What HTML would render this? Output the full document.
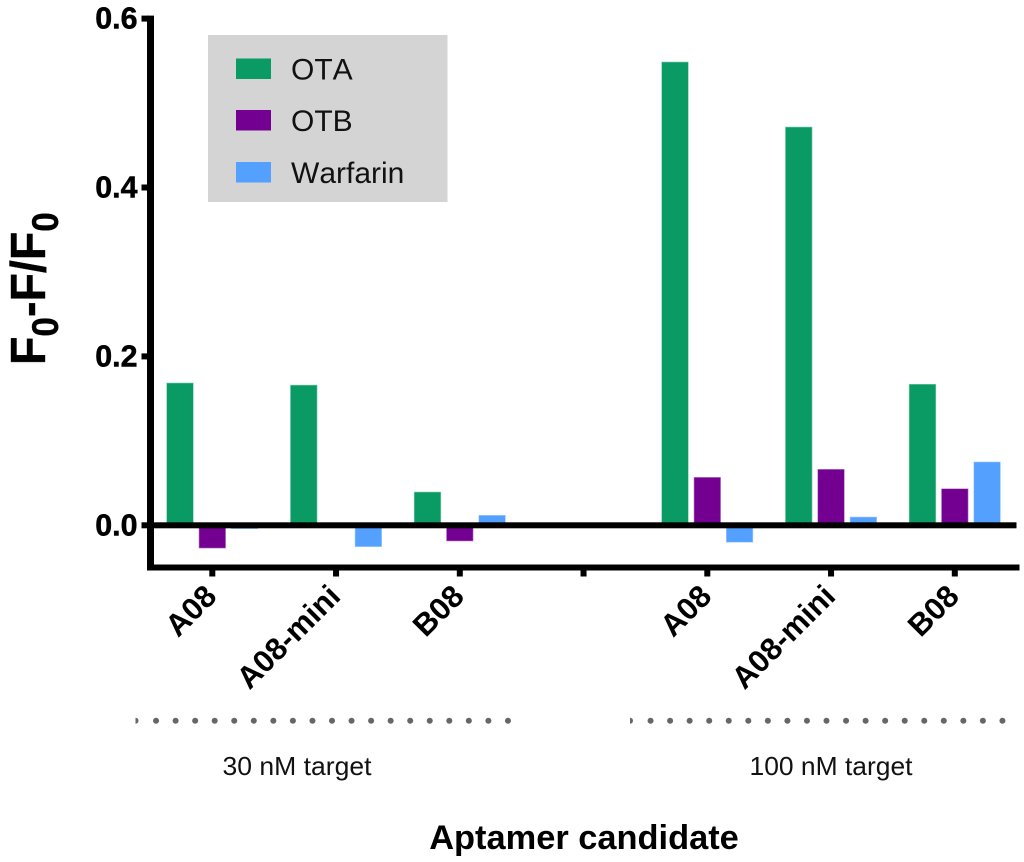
<!DOCTYPE html>
<html lang="en">
<head>
<meta charset="utf-8">
<title>Aptamer candidate chart</title>
<style>
html,body{margin:0;padding:0;background:#fff;}
svg{display:block;font-family:"Liberation Sans",sans-serif;}
</style>
</head>
<body>
<svg id="chart" xmlns="http://www.w3.org/2000/svg" width="1024" height="862" viewBox="0 0 1024 862">
  <rect x="0" y="0" width="1024" height="862" fill="#ffffff"/>
  <g id="bars"></g>
  <g id="axes"></g>

  <g style="font-kerning:none">
    <rect x="208" y="35" width="239.5" height="167" fill="#d4d4d4"/>
    <rect x="236" y="58.5" width="35" height="20.5" fill="#0a9a64"/>
    <text x="291" y="79.3" font-size="30" fill="#111">OTA</text>
    <rect x="236" y="110" width="35" height="20.5" fill="#730091"/>
    <text x="291" y="131" font-size="30" fill="#111">OTB</text>
    <rect x="236" y="162" width="35" height="20.5" fill="#54a0ff"/>
    <text x="291" y="183" font-size="30" fill="#111">Warfarin</text>
  </g>

  <text transform="translate(45,365) rotate(-90) scale(0.95,1)" font-size="49" font-weight="bold" fill="#000" stroke="#000" stroke-width="0.4">F<tspan font-size="37" dy="13">0</tspan><tspan dy="-13">-F/F</tspan><tspan font-size="37" dy="13">0</tspan></text>

  <g id="dots"></g>

  <text x="297" y="775" font-size="25.6" text-anchor="middle" textLength="149" lengthAdjust="spacingAndGlyphs" fill="#111">30 nM target</text>
  <text x="831" y="775" font-size="25.6" text-anchor="middle" textLength="163" lengthAdjust="spacingAndGlyphs" fill="#111">100 nM target</text>
  <text x="584" y="849" font-size="34.4" font-weight="bold" text-anchor="middle" fill="#000">Aptamer candidate</text>
</svg>
<script>
const categories = ['A08', 'A08-mini', 'B08', '', 'A08', 'A08-mini', 'B08'];
const otaValues = [0.1685, 0.166, 0.0394, null, 0.5486, 0.4716, 0.167];
const otbValues = [-0.027, 0, -0.0186, null, 0.0568, 0.0663, 0.0433];
const warfarinValues = [-0.004, -0.0253, 0.0118, null, -0.02, 0.0098, 0.075];
const yTickValues = [0, 0.2, 0.4, 0.6];
const yTickLabels = ['0.0', '0.2', '0.4', '0.6'];

const NS = 'http://www.w3.org/2000/svg';
const barsGroup = document.getElementById('bars');
const axesGroup = document.getElementById('axes');
const dotsGroup = document.getElementById('dots');

function yScale(v) { return 525.3 - v * 844.5; }
function xScale(i) { return 212.3 + i * 123.75; }

function makeSvg(tag, attrs) {
  const el = document.createElementNS(NS, tag);
  Object.keys(attrs).forEach(function (k) { el.setAttribute(k, attrs[k]); });
  return el;
}

const seriesList = [
  { key: 'ota', values: otaValues, color: '#0a9a64', edge: '#7fcdb0', offset: -32.3 },
  { key: 'otb', values: otbValues, color: '#730091', edge: '#b98bc8', offset: 0 },
  { key: 'warfarin', values: warfarinValues, color: '#54a0ff', edge: '#a5cdff', offset: 32.3 }
];

const barWidth = 26.6;
seriesList.forEach(function (s) {
  s.values.forEach(function (v, i) {
    if (v === null || v === 0) return;
    const y0 = yScale(0);
    const y1 = yScale(v);
    const bar = makeSvg('rect', {
      x: xScale(i) + s.offset - barWidth / 2,
      y: Math.min(y0, y1),
      width: barWidth,
      height: Math.abs(y1 - y0),
      fill: s.color,
      stroke: s.edge,
      'stroke-width': 0.6
    });
    
    
    barsGroup.appendChild(bar);
  });
});

const yAxisLine = makeSvg('rect', { x: 147, y: yScale(0.6) - 3, width: 7, height: 570.5 - yScale(0.6) + 3, fill: '#000' });


axesGroup.appendChild(yAxisLine);

const xAxisLine = makeSvg('rect', { x: 147, y: 564.5, width: 872.5, height: 6, fill: '#000' });


axesGroup.appendChild(xAxisLine);

const zeroLine = makeSvg('rect', { x: 147, y: yScale(0) - 3, width: 869.5, height: 6, fill: '#000' });


axesGroup.appendChild(zeroLine);

yTickValues.forEach(function (v, i) {
  const tick = makeSvg('rect', { x: 141.5, y: yScale(v) - 3, width: 7, height: 6, fill: '#000' });
  
  
  axesGroup.appendChild(tick);
  const label = makeSvg('text', { x: 137.5, y: yScale(v) + 10, 'font-size': 30.4, 'font-weight': 'bold', 'text-anchor': 'end', fill: '#000', stroke: '#000', 'stroke-width': 0.5 });
  label.textContent = yTickLabels[i];
  
  
  axesGroup.appendChild(label);
});

categories.forEach(function (c, i) {
  const x = xScale(i);
  const tick = makeSvg('rect', { x: x - 3, y: 570, width: 6, height: 6.5, fill: '#000' });
  
  
  axesGroup.appendChild(tick);
  if (!c) return;
  const label = makeSvg('text', {
    transform: 'translate(' + (x + 6) + ',598) rotate(-45)',
    'font-size': 31,
    'font-weight': 'bold',
    'text-anchor': 'end',
    fill: '#000'
  });
  label.textContent = c;
  
  
  axesGroup.appendChild(label);
});

[136.5, 631].forEach(function (start) {
  for (let n = 1; n < 20; n++) {
    const dot = makeSvg('circle', { cx: start + n * 19.55, cy: 720.7, r: 3, fill: '#666666' });
    
    
    dotsGroup.appendChild(dot);
  }
  const cap = makeSvg('path', { d: 'M' + (start - 1) + ' 717.7 A3 3 0 0 1 ' + (start - 1) + ' 723.7 Z', fill: '#666666' });
  
  
  dotsGroup.appendChild(cap);
});
</script>
</body>
</html>
